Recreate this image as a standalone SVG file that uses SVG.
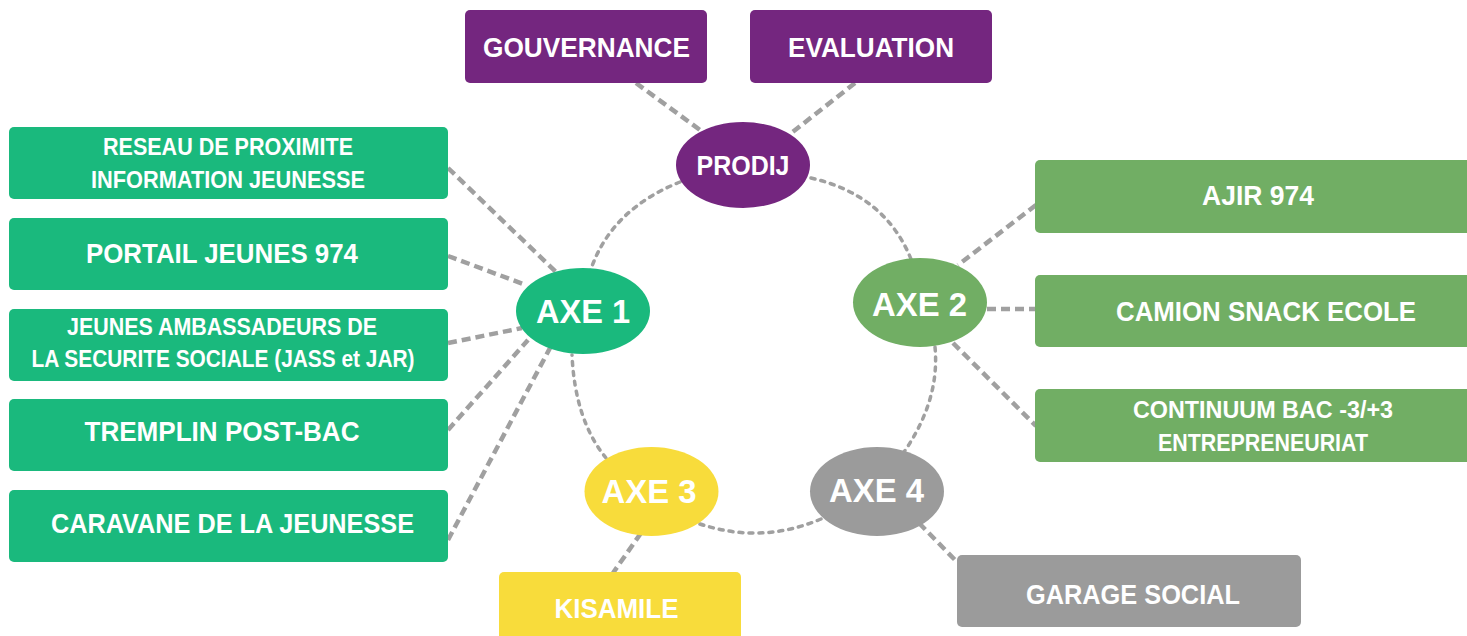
<svg xmlns="http://www.w3.org/2000/svg" width="1467" height="636" viewBox="0 0 1467 636">
<style>
text{font-family:"Liberation Sans",Arial,sans-serif;font-weight:bold;fill:#fff;text-anchor:middle}
.purple{fill:#74267f}
.green1{fill:#1ab97d}
.green2{fill:#71ae64}
.yellow{fill:#f8dc3b}
.grey{fill:#9b9b9b}
.spoke{stroke:#a0a0a0;stroke-width:4.5;stroke-dasharray:9 5;fill:none}
.ring{stroke:#a0a0a0;stroke-width:3.5;stroke-dasharray:4 6;stroke-linecap:round;fill:none}
.s28{font-size:28px}
.s24{font-size:23px}
.s34{font-size:34px}
</style>
<rect width="1467" height="636" fill="#fff"/>
<g id="connectors">
<path class="ring" d="M680,182 Q610,210 590,272"/>
<path class="ring" d="M811,178 Q885,195 911,259"/>
<path class="ring" d="M935,347 Q940,400 904,452"/>
<path class="ring" d="M821,519 Q760,545 697,523"/>
<path class="ring" d="M606,458 Q575,420 572,355"/>
<line class="spoke" x1="636" y1="83" x2="700" y2="130"/>
<line class="spoke" x1="855" y1="83" x2="785" y2="138"/>
<line class="spoke" x1="448" y1="168" x2="556" y2="272"/>
<line class="spoke" x1="448" y1="256" x2="526" y2="285"/>
<line class="spoke" x1="448" y1="343" x2="522" y2="328"/>
<line class="spoke" x1="448" y1="430" x2="528" y2="340"/>
<line class="spoke" x1="448" y1="540" x2="550" y2="348"/>
<line class="spoke" x1="1036" y1="205" x2="958" y2="265"/>
<line class="spoke" x1="987" y1="309" x2="1036" y2="309"/>
<line class="spoke" x1="953" y1="343" x2="1036" y2="426"/>
<line class="spoke" x1="919" y1="523" x2="957" y2="562"/>
<line class="spoke" x1="641" y1="533" x2="613" y2="573"/>
</g>
<g id="gouvernance"><rect class="purple" x="465" y="10" width="242" height="73" rx="5"/><text class="s28" x="586.5" y="57" textLength="207" lengthAdjust="spacingAndGlyphs">GOUVERNANCE</text></g>
<g id="evaluation"><rect class="purple" x="750" y="10" width="242" height="73" rx="5"/><text class="s28" x="871" y="57" textLength="166" lengthAdjust="spacingAndGlyphs">EVALUATION</text></g>
<g id="prodij"><ellipse class="purple" cx="743" cy="165" rx="67" ry="43"/><text class="s28" x="743" y="175" textLength="93" lengthAdjust="spacingAndGlyphs">PRODIJ</text></g>
<g id="reseau"><rect class="green1" x="9" y="127" width="439" height="72" rx="5"/><text class="s24" x="228" y="155" textLength="250" lengthAdjust="spacingAndGlyphs">RESEAU DE PROXIMITE</text><text class="s24" x="228" y="188" textLength="274" lengthAdjust="spacingAndGlyphs">INFORMATION JEUNESSE</text></g>
<g id="portail"><rect class="green1" x="9" y="218" width="439" height="72" rx="5"/><text class="s28" x="222" y="263" textLength="272" lengthAdjust="spacingAndGlyphs">PORTAIL JEUNES 974</text></g>
<g id="jass"><rect class="green1" x="9" y="309" width="439" height="72" rx="5"/><text class="s24" x="222" y="335" textLength="310" lengthAdjust="spacingAndGlyphs">JEUNES AMBASSADEURS DE</text><text class="s24" x="223" y="367" textLength="383" lengthAdjust="spacingAndGlyphs">LA SECURITE SOCIALE (JASS et JAR)</text></g>
<g id="tremplin"><rect class="green1" x="9" y="399" width="439" height="72" rx="5"/><text class="s28" x="222" y="441" textLength="275" lengthAdjust="spacingAndGlyphs">TREMPLIN POST-BAC</text></g>
<g id="caravane"><rect class="green1" x="9" y="490" width="439" height="72" rx="5"/><text class="s28" x="232.5" y="533" textLength="363" lengthAdjust="spacingAndGlyphs">CARAVANE DE LA JEUNESSE</text></g>
<g id="axe1"><ellipse class="green1" cx="583" cy="311" rx="67" ry="43"/><text class="s34" x="583" y="323" textLength="94" lengthAdjust="spacingAndGlyphs">AXE 1</text></g>
<g id="axe2"><ellipse class="green2" cx="920" cy="302.5" rx="67" ry="44.5"/><text class="s34" x="919.5" y="316" textLength="95" lengthAdjust="spacingAndGlyphs">AXE 2</text></g>
<g id="axe3"><ellipse class="yellow" cx="651.5" cy="491.5" rx="67" ry="44.5"/><text class="s34" x="649" y="503" textLength="95" lengthAdjust="spacingAndGlyphs">AXE 3</text></g>
<g id="axe4"><ellipse class="grey" cx="877" cy="491.5" rx="67" ry="44.5"/><text class="s34" x="876.5" y="502" textLength="95" lengthAdjust="spacingAndGlyphs">AXE 4</text></g>
<g id="ajir"><rect class="green2" x="1035" y="160" width="445" height="73" rx="5"/><text class="s28" x="1258" y="205" textLength="112" lengthAdjust="spacingAndGlyphs">AJIR 974</text></g>
<g id="camion"><rect class="green2" x="1035" y="275" width="445" height="72" rx="5"/><text class="s28" x="1266" y="321" textLength="300" lengthAdjust="spacingAndGlyphs">CAMION SNACK ECOLE</text></g>
<g id="continuum"><rect class="green2" x="1035" y="389" width="445" height="73" rx="5"/><text class="s24" x="1263" y="418" textLength="260" lengthAdjust="spacingAndGlyphs">CONTINUUM BAC -3/+3</text><text class="s24" x="1263" y="451" textLength="210" lengthAdjust="spacingAndGlyphs">ENTREPRENEURIAT</text></g>
<g id="kisamile"><rect class="yellow" x="499" y="572" width="242" height="80" rx="5"/><text class="s28" x="616.5" y="618" textLength="124" lengthAdjust="spacingAndGlyphs">KISAMILE</text></g>
<g id="garage"><rect class="grey" x="957" y="555" width="344" height="72" rx="5"/><text class="s28" x="1133" y="604" textLength="214" lengthAdjust="spacingAndGlyphs">GARAGE SOCIAL</text></g>
</svg>
